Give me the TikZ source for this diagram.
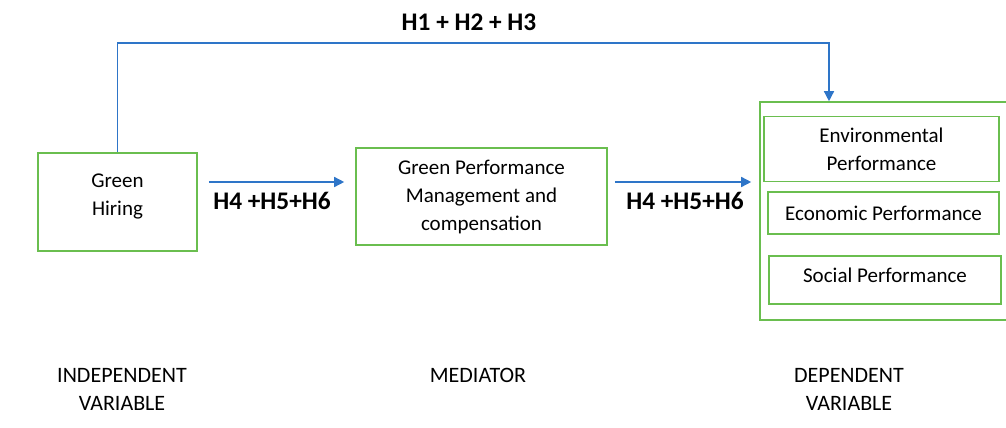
\documentclass[tikz,border=0pt]{standalone}
\usepackage{fontspec}
\setmainfont{Carlito}
\usetikzlibrary{calc,arrows.meta}

\definecolor{boxgreen}{RGB}{106,190,79}
\definecolor{arrblue}{RGB}{46,117,200}

\begin{document}
\begin{tikzpicture}[x=0.75pt,y=0.75pt,yscale=-1,xscale=1,
    gbox/.style={draw=boxgreen, line width=1.2pt, align=center, inner sep=0pt,
                 font=\fontsize{15.75}{21}\selectfont},
    arr/.style={draw=arrblue, line width=1.1pt, -{Triangle[length=7.5pt,width=7.5pt]}},
    hyp/.style={font=\fontsize{19}{22}\selectfont\bfseries},
    varlabel/.style={align=center, font=\fontsize{16.5}{21}\selectfont}]
        \useasboundingbox (0,0) rectangle (1006,428);
        \clip (0,0) rectangle (1006,428);
        %Independent variable
        \node [gbox, minimum width=119.25pt, minimum height=73.5pt, text depth=11pt] (hire) at (117.5,202) {Green\\Hiring};
        %Mediator
        \node [gbox, minimum width=188.25pt, minimum height=72.75pt] (gpm) at (481.5,196.5) {Green Performance\\Management and\\compensation};
        %Dependent variables: outer box and three inner boxes
        \node [gbox, minimum width=189pt, minimum height=163.5pt] (dep) at (886,211) {};
        \node [gbox, minimum width=176.25pt, minimum height=48.75pt] (env) at (881.5,149) {Environmental\\Performance};
        \node [gbox, minimum width=173.25pt, minimum height=31.5pt] (econ) at (883.5,213) {Economic Performance};
        \node [gbox, minimum width=174pt, minimum height=36pt, text depth=7pt] (soc) at (885,280) {Social Performance};
        %Hypothesis arrows
        \coordinate (topright) at (829,43);
        \draw [arr] (hire.north) |- (topright) -- (topright |- dep.north);
        \draw [arr] ($(hire.east)+(11,-20)$) -- ($(gpm.west)+(-11,-14.5)$);
        \draw [arr] ($(gpm.east)+(7,-14.5)$) -- ($(dep.west)+(-8,-29)$);
        %Labels
        \node [hyp] (hdirect) at (469,22) {H1 + H2 + H3};
        \node [hyp] (hmedA) at (272,201) {H4 +H5+H6};
        \node [hyp] (hmedB) at (685,201) {H4 +H5+H6};
        \node [varlabel] (indep) at (122,389) {INDEPENDENT\\VARIABLE};
        \node [varlabel] (med) at (478,375) {MEDIATOR};
        \node [varlabel] (depvar) at (849,389) {DEPENDENT\\VARIABLE};
\end{tikzpicture}
\end{document}
